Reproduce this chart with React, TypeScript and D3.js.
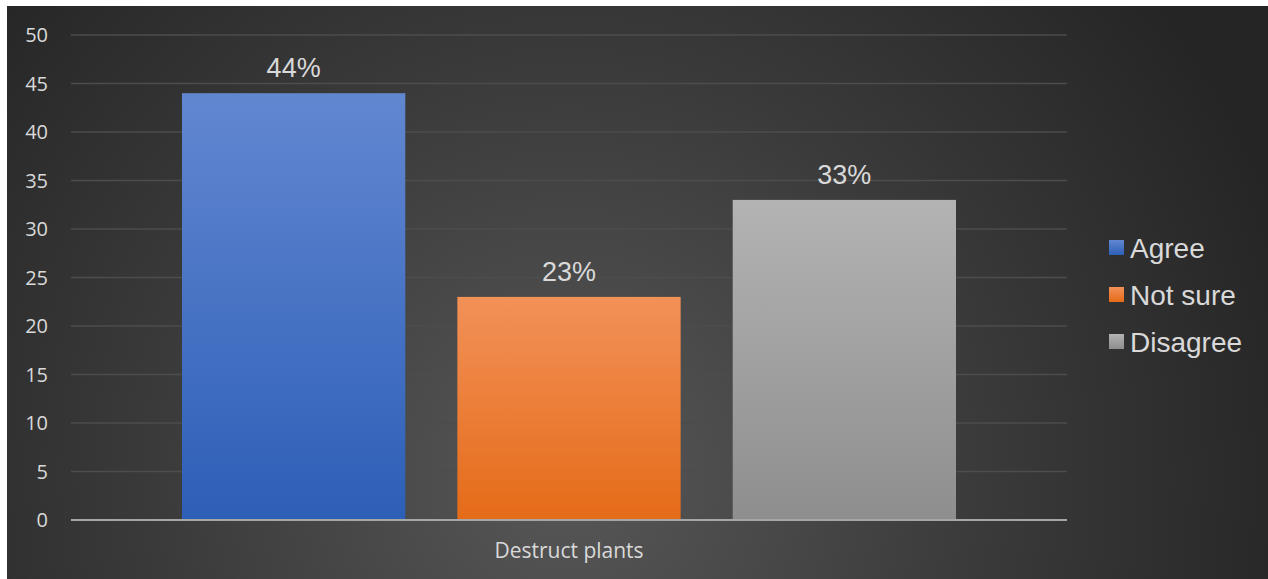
import React from "react";
import * as d3 from "d3";

const categories = ["Destruct plants"];
const seriesNames = ["Agree", "Not sure", "Disagree"];
const seriesValues = [44, 23, 33];
const dataLabels = ["44%", "23%", "33%"];
const yTicks = [0, 5, 10, 15, 20, 25, 30, 35, 40, 45, 50];

const gradients = [
  ["#6287d1", "#2d5fb7"],
  ["#f29158", "#e56b18"],
  ["#b3b3b3", "#8e8e8e"],
];

export default function App() {
  const W = 1261;
  const H = 573;
  const ox = 7, oy = 6;
  const left = 71 - ox, right = 1067 - ox;
  const top = 35 - oy, bottom = 520 - oy;

  const y = d3.scaleLinear().domain([0, 50]).range([bottom, top]);
  const x0 = d3.scaleBand().domain(categories).range([left, right]).paddingInner(0).paddingOuter(0);
  const inner = d3.scaleBand().domain(seriesNames).range([111, x0.bandwidth() - 111]).paddingInner(52 / 275).paddingOuter(0);

  return (
    <svg
      width={W}
      height={H}
      style={{ position: "absolute", left: ox, top: oy, display: "block" }}
    >
      <defs>
        <radialGradient id="bg" cx="560" cy="470" r="760" gradientUnits="userSpaceOnUse">
          <stop offset="0" stopColor="#575757" />
          <stop offset="0.55" stopColor="#3a3a3a" />
          <stop offset="1" stopColor="#252525" />
        </radialGradient>
        {gradients.map((g, i) => (
          <linearGradient key={i} id={`g${i}`} x1="0" y1="0" x2="0" y2="1">
            <stop offset="0" stopColor={g[0]} />
            <stop offset="1" stopColor={g[1]} />
          </linearGradient>
        ))}
      </defs>
      <rect x={0} y={0} width={W} height={H} fill="url(#bg)" />
      {yTicks.map((t) => (
        <g key={t}>
          {t !== 0 && (
            <line x1={left} x2={right} y1={y(t)} y2={y(t)} stroke="#4d4d4d" strokeWidth={1.5} />
          )}
          <text
            x={48 - ox}
            y={y(t)}
            dy="0.36em"
            textAnchor="end"
            fontFamily="'Open Sans', sans-serif"
            fontSize={20}
            fill="#d9d9d9"
          >
            {t}
          </text>
        </g>
      ))}
      {categories.map((c) => (
        <g key={c} transform={`translate(${x0(c)},0)`}>
          {seriesNames.map((s, i) => {
            const bx = inner(s)!;
            const by = y(seriesValues[i]);
            return (
              <g key={s}>
                <rect
                  x={bx}
                  y={by}
                  width={inner.bandwidth()}
                  height={bottom - by}
                  fill={`url(#g${i})`}
                />
                <text
                  x={bx + inner.bandwidth() / 2}
                  y={by - 16}
                  textAnchor="middle"
                  fontFamily="'Liberation Sans', Arial, sans-serif"
                  fontSize={27}
                  fill="#d9d9d9"
                >
                  {dataLabels[i]}
                </text>
              </g>
            );
          })}
          <text
            x={x0.bandwidth() / 2}
            y={558 - oy}
            textAnchor="middle"
            fontFamily="'Open Sans', sans-serif"
            fontSize={21}
            fill="#d9d9d9"
          >
            {c}
          </text>
        </g>
      ))}
      <line x1={left} x2={right} y1={bottom} y2={bottom} stroke="#a6a6a6" strokeWidth={2} />
      {seriesNames.map((s, i) => (
        <g key={s} transform={`translate(${1109 - ox},${240 - oy + i * 47})`}>
          <rect x={0} y={0} width={15} height={15} fill={`url(#g${i})`} />
          <text
            x={21}
            y={7.5}
            dy="0.36em"
            fontFamily="'Liberation Sans', Arial, sans-serif"
            fontSize={28}
            fill="#d9d9d9"
          >
            {s}
          </text>
        </g>
      ))}
    </svg>
  );
}
